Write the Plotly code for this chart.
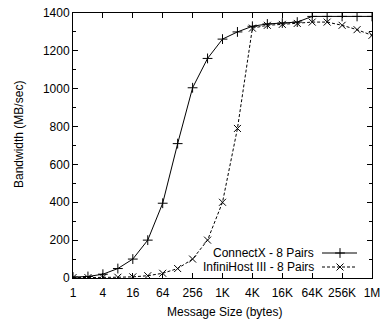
import plotly.graph_objects as go

sizes = [2**i for i in range(21)]
connectx = [5, 8, 20, 50, 100, 200, 395, 710, 1005, 1160, 1262, 1300, 1330, 1342, 1347, 1352, 1382, 1382, 1382, 1382, 1382]
infinihost = [2, 2, 3, 4, 6, 12, 25, 50, 100, 200, 400, 790, 1320, 1335, 1340, 1345, 1352, 1352, 1335, 1312, 1282]
tick_vals = [1, 4, 16, 64, 256, 1024, 4096, 16384, 65536, 262144, 1048576]
tick_text = ["1", "4", "16", "64", "256", "1K", "4K", "16K", "64K", "256K", "1M"]
names = ["ConnectX - 8 Pairs", "InfiniHost III - 8 Pairs"]

FONT = "Liberation Sans, Arial, sans-serif"
FS = 12
L, R, T, B = 73, 372, 13, 278
W, H = 391, 322
MS = 7

def px(xp):
    return (xp - L) / (R - L)

def py(yp):
    return (B - yp) / (B - T)

fig = go.Figure()
fig.add_trace(go.Scatter(x=sizes, y=connectx, mode="lines+markers", name=names[0],
                         line=dict(color="black", width=1),
                         marker=dict(symbol="cross-thin-open", size=MS, color="black", line=dict(color="black", width=1)),
                         showlegend=False))
fig.add_trace(go.Scatter(x=sizes, y=infinihost, mode="lines+markers", name=names[1],
                         line=dict(color="black", width=1, dash="3px,2px"),
                         marker=dict(symbol="x-thin-open", size=MS, color="black", line=dict(color="black", width=1)),
                         showlegend=False))

# custom legend (gnuplot style: text then sample) on pixel overlay axes
leg_y = [253, 267]
styles = [dict(dash="solid", sym="cross-thin-open"), dict(dash="3px,2px", sym="x-thin-open")]
for i, nm in enumerate(names):
    fig.add_trace(go.Scatter(x=[322, 357], y=[leg_y[i], leg_y[i]], mode="lines", xaxis="x2", yaxis="y2",
                             line=dict(color="black", width=1, dash=styles[i]["dash"]), showlegend=False, hoverinfo="skip"))
    fig.add_trace(go.Scatter(x=[340], y=[leg_y[i]], mode="markers", xaxis="x2", yaxis="y2",
                             marker=dict(symbol=styles[i]["sym"], size=MS, color="black", line=dict(color="black", width=1)),
                             showlegend=False, hoverinfo="skip"))
    fig.add_annotation(x=px(316), y=py(leg_y[i]), xref="paper", yref="paper", text=nm, showarrow=False,
                       xanchor="right", yanchor="middle", font=dict(family=FONT, size=FS, color="black"))

# axis titles
fig.add_annotation(x=px(224), y=py(312), xref="paper", yref="paper", text="Message Size (bytes)",
                   showarrow=False, xanchor="center", yanchor="middle", font=dict(family=FONT, size=FS, color="black"))
fig.add_annotation(x=px(19), y=py(135), xref="paper", yref="paper", text="Bandwidth (MB/sec)", textangle=-90,
                   showarrow=False, xanchor="center", yanchor="middle", font=dict(family=FONT, size=FS, color="black"))

fig.update_layout(
    width=W, height=H,
    margin=dict(l=L, r=W - R, t=T, b=H - B, autoexpand=False),
    paper_bgcolor="white", plot_bgcolor="white",
    font=dict(family=FONT, size=FS, color="black"),
    xaxis=dict(type="log", range=[0, 20 * 0.30103], tickvals=tick_vals, ticktext=tick_text,
               ticks="inside", ticklen=5, tickcolor="black", showline=True, linecolor="black", linewidth=1,
               mirror="ticks", showgrid=False, zeroline=False, ticklabelstandoff=4, automargin=False,
               tickfont=dict(size=FS)),
    yaxis=dict(range=[0, 1400], dtick=200, ticks="inside", ticklen=5, tickcolor="black",
               showline=True, linecolor="black", linewidth=1, mirror="ticks", showgrid=False, zeroline=False,
               minor=dict(dtick=100, ticks="inside", ticklen=3, tickcolor="black"), automargin=False,
               tickfont=dict(size=FS)),
    xaxis2=dict(overlaying="x", range=[L, R], visible=False, fixedrange=True),
    yaxis2=dict(overlaying="y", range=[B, T], visible=False, fixedrange=True),
)

fig.write_html("out.html")
